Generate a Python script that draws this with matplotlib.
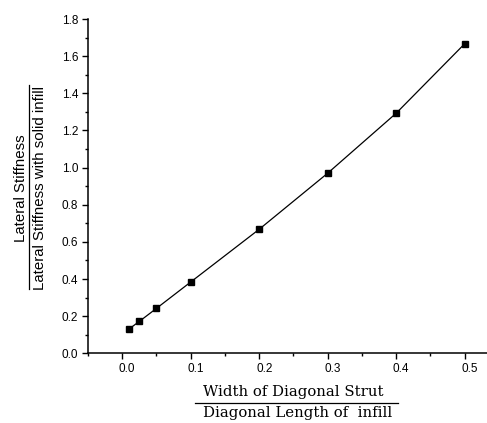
import matplotlib
matplotlib.use('Agg')
import matplotlib.pyplot as plt
import matplotlib.transforms as mtransforms
from matplotlib.lines import Line2D
from matplotlib.ticker import MultipleLocator

# Dados
ratio = [0.01, 0.025, 0.05, 0.1, 0.2, 0.3, 0.4, 0.5]
stiffness = [0.131, 0.172, 0.242, 0.384, 0.668, 0.970, 1.293, 1.667]

W, H = 487, 423
fig = plt.figure(figsize=(W / 100, H / 100), dpi=100)
ax = fig.add_axes([88 / W, 1 - 353.3 / H, 1 - 88 / W, (353.3 - 19) / H])

ax.plot(ratio, stiffness, color='black', linewidth=0.9,
        marker='s', markersize=5, markerfacecolor='black', markeredgecolor='black')

ax.set_xlim(-0.05, 0.5325)
ax.set_ylim(0.0, 1.8)
ax.xaxis.set_major_locator(MultipleLocator(0.1))
ax.xaxis.set_minor_locator(MultipleLocator(0.05))
ax.yaxis.set_major_locator(MultipleLocator(0.2))
ax.yaxis.set_minor_locator(MultipleLocator(0.1))
ax.xaxis.set_major_formatter(plt.FuncFormatter(lambda v, p: f'{v:.1f}'))
ax.yaxis.set_major_formatter(plt.FuncFormatter(lambda v, p: f'{v:.1f}'))

for s in ['top', 'right']:
    ax.spines[s].set_visible(False)
for s in ['left', 'bottom']:
    ax.spines[s].set_linewidth(1.1)

ax.tick_params(which='major', direction='out', length=4, width=1.0,
               labelsize=8.5, pad=3)
ax.tick_params(which='minor', direction='out', length=2.5, width=1.0)
ax.tick_params(axis='x', pad=3)

# rotulos do eixo x ligeiramente deslocados para a direita, como no original
shift = mtransforms.ScaledTranslation(5 / 100, 0, fig.dpi_scale_trans)
for lab in ax.get_xticklabels() + ax.get_yticklabels():
    lab.set_family('Liberation Sans')
for lab in ax.get_xticklabels():
    lab.set_transform(lab.get_transform() + shift)

# Rotulo do eixo y (fracao)
fig.text(21 / W, 1 - 188 / H, 'Lateral Stiffness', rotation=90,
         ha='center', va='center', fontsize=10.8, family='Liberation Sans')
fig.text(40 / W, 1 - 188 / H, 'Lateral Stiffness with solid infill', rotation=90,
         ha='center', va='center', fontsize=10.8, family='Liberation Sans')
fig.add_artist(Line2D([28.5 / W, 28.5 / W], [1 - 85 / H, 1 - 289 / H],
                      color='black', linewidth=0.9))

# Rotulo do eixo x (fracao)
fig.text(293 / W, 1 - 392 / H, 'Width of Diagonal Strut',
         ha='center', va='center', fontsize=10.7, family='DejaVu Serif')
fig.text(298 / W, 1 - 413 / H, 'Diagonal Length of  infill',
         ha='center', va='center', fontsize=10.7, family='DejaVu Serif')
fig.add_artist(Line2D([195 / W, 398 / W], [1 - 402.5 / H, 1 - 402.5 / H],
                      color='black', linewidth=0.9))

plt.savefig('out.png', dpi=100)
